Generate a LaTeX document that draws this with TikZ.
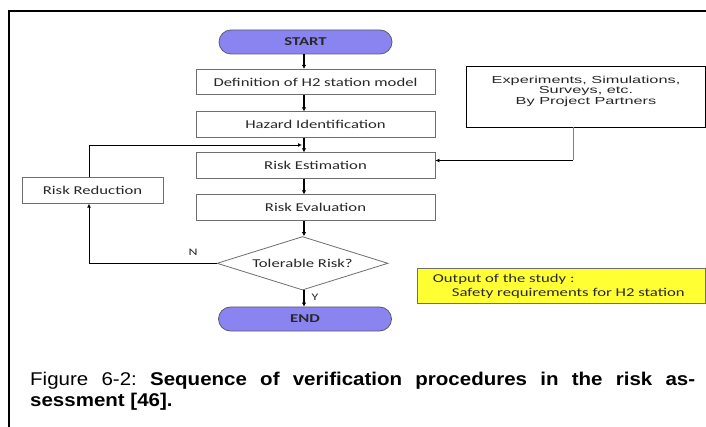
\documentclass[tikz,border=0pt]{standalone}
\usepackage{fontspec}
\setmainfont{Liberation Sans}
\newfontfamily\fcfont{Carlito}
\usetikzlibrary{shapes.geometric,arrows.meta}
\definecolor{startfill}{RGB}{138,132,240}
\definecolor{startline}{RGB}{90,90,110}
\definecolor{boxline}{RGB}{110,110,110}
\definecolor{outyellow}{RGB}{255,255,51}
\definecolor{txtgray}{RGB}{40,40,40}
\newcommand\fct[1]{\scalebox{1.39}[1]{#1}}
\newcommand\art[1]{\scalebox{1.6}[1]{#1}}
\frenchspacing
\tikzset{
  stepbox/.style={draw=boxline, line width=0.8pt, fill=white, inner sep=0pt,
    minimum width=239pt, minimum height=25.5pt, text=txtgray,
    font=\fcfont\fontsize{12}{12}\selectfont},
  termbox/.style={draw=startline, line width=0.8pt, fill=startfill, inner sep=0pt,
    rounded corners=12pt, minimum width=173pt, minimum height=24pt, text=txtgray,
    font=\fcfont\bfseries\fontsize{12}{12}\selectfont},
  thickarrow/.style={line width=1.8pt, -{Latex[length=4pt,width=4.5pt]}},
  thinarrow/.style={line width=0.9pt, -{Latex[length=4pt,width=4pt]}},
  lbl/.style={font=\fcfont\fontsize{10}{10}\selectfont, text=txtgray, inner sep=0pt},
}
\begin{document}
\begin{tikzpicture}[x=1pt,y=-1pt]
\useasboundingbox (0,0) rectangle (706,427);
% frame
\draw[line width=1.5pt] (9,427) -- (9,11) -- (706,11);

% nodes
\node[termbox] (start) at (305.5,42) {\fct{START}};
\node[stepbox] (def) at (315.5,82) {\fct{Definition of H2 station model}};
\node[stepbox] (haz) at (315.5,124.5) {\fct{Hazard Identification}};
\node[stepbox] (est) at (315.5,165.5) {\fct{Risk Estimation}};
\node[stepbox] (eva) at (315.5,207.5) {\fct{Risk Evaluation}};
\node[stepbox, minimum width=141pt] (red) at (92.5,190.5) {\fct{Risk Reduction}};
\node[draw=boxline, line width=0.8pt, fill=white, shape=diamond, shape aspect=3.2,
      inner sep=0pt, minimum width=171pt, minimum height=53.5pt, text=txtgray,
      font=\fcfont\fontsize{12}{12}\selectfont] (tol) at (302.5,263.3) {\fct{Tolerable Risk?}};
\node[termbox] (end) at (305,319) {\fct{END}};

% experiments box
\node[draw=black, line width=0.8pt, fill=white, inner sep=0pt,
      minimum width=239pt, minimum height=60.5pt] (exp) at (585.5,96.7) {};
\node[inner sep=0pt, align=center, text=txtgray] (exptxt) at (586,91.7)
  {\art{\fontsize{10.2}{10}\selectfont\begin{tabular}{@{}c@{}}Experiments, Simulations,\\ Surveys, etc.\\ By Project Partners\end{tabular}}};

% output box
\node[draw=boxline, line width=0.8pt, fill=outyellow, inner sep=0pt,
      minimum width=288pt, minimum height=35pt] (out) at (561.5,285.5) {};
\node[anchor=west, inner sep=0pt, font=\fcfont\fontsize{12}{12}\selectfont, text=txtgray] (out1) at (432.7,279.5) {\fct{Output of the study :}};
\node[anchor=west, inner sep=0pt, font=\fcfont\fontsize{12}{12}\selectfont, text=txtgray] (out2) at (451.7,293) {\fct{Safety requirements for H2 station}};

% labels
\node[lbl] (nlab) at (193,252.5) {\fct{N}};
\node[lbl] (ylab) at (315,297.5) {\fct{Y}};

% main arrows
\draw[thickarrow] (start.south -| 304,0) -- (def.north -| 304,0);
\draw[thickarrow] (def.south -| 304,0) -- (haz.north -| 304,0);
\draw[thickarrow] (haz.south -| 304,0) -- (est.north -| 304,0);
\draw[thickarrow] (est.south -| 304,0) -- (eva.north -| 304,0);
\draw[thickarrow] (eva.south -| 304,0) -- (tol.north -| 304,0);
\draw[thickarrow] (tol.south -| 304,0) -- (end.north -| 304,0);

% feedback loop
\coordinate (loopcorner) at (89,263.3);
\coordinate (fbtop) at (89,145);
\coordinate (fbend) at (302,145);
\draw[thinarrow] (tol.west) -- (loopcorner) -- (red.south -| loopcorner);
\draw[thinarrow] (red.north -| fbtop) -- (fbtop) -- (fbend);

% experiments connector
\coordinate (expcorner) at (573,160.5);
\draw[line width=0.9pt, gray] (exp.south -| expcorner) -- (expcorner);
\draw[thinarrow] (expcorner) -- (est.east |- expcorner);

% caption
\node[anchor=base west, inner sep=0pt] (cap1) at (30,385)
  {\scalebox{1}[0.9]{\fontsize{20.5}{22}\selectfont\makebox[665pt][s]{Figure 6-2: \textbf{Sequence of verification procedures in the risk as-}}}};
\node[anchor=base west, inner sep=0pt] (cap2) at (30,406.7)
  {\scalebox{1}[0.9]{\fontsize{20.5}{22}\selectfont\textbf{sessment [46].}}};
\end{tikzpicture}
\end{document}
